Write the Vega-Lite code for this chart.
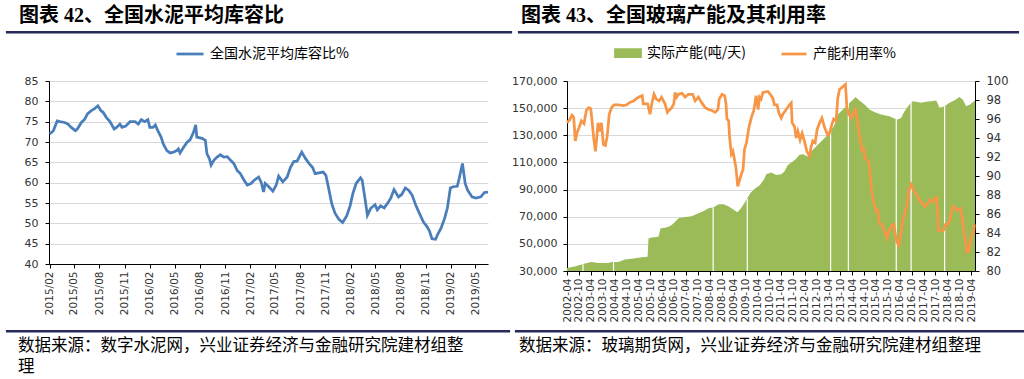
{
  "$schema": "https://vega.github.io/schema/vega-lite/v6.json",
  "padding": {"left": 5, "top": 4, "right": 0, "bottom": 0},
  "background": "white",
  "columns": 1,
  "align": "none",
  "spacing": 5,
  "config": {
    "view": {"stroke": null},
    "axis": {"labelFont": "DejaVu Sans", "labelFontSize": 10.5, "labelColor": "#333333", "domainColor": "#000000", "tickColor": "#000000", "gridColor": "#D9D9D9", "title": null},
    "axisX": {"labelOverlap": false},
    "legend": {"labelFont": "Noto Sans CJK SC", "labelFontSize": 14, "labelColor": "#000000", "title": null}
  },
  "datasets": {
    "cement": [
      {"d": "2015-02-01", "v": 72.0}, {"d": "2015-02-09", "v": 72.4}, {"d": "2015-02-15", "v": 72.8}, {"d": "2015-03-01", "v": 75.2},
      {"d": "2015-03-10", "v": 75.0}, {"d": "2015-03-28", "v": 74.8}, {"d": "2015-04-09", "v": 74.4}, {"d": "2015-04-21", "v": 73.6},
      {"d": "2015-05-06", "v": 72.8}, {"d": "2015-05-13", "v": 73.2}, {"d": "2015-05-28", "v": 74.8}, {"d": "2015-06-09", "v": 75.6},
      {"d": "2015-06-19", "v": 76.9}, {"d": "2015-07-03", "v": 77.7}, {"d": "2015-07-15", "v": 78.2}, {"d": "2015-07-27", "v": 78.9},
      {"d": "2015-08-07", "v": 77.7}, {"d": "2015-08-15", "v": 77.3}, {"d": "2015-08-27", "v": 76.0}, {"d": "2015-09-09", "v": 75.0},
      {"d": "2015-09-24", "v": 73.2}, {"d": "2015-10-03", "v": 73.6}, {"d": "2015-10-15", "v": 74.4}, {"d": "2015-10-23", "v": 73.6},
      {"d": "2015-11-05", "v": 73.9}, {"d": "2015-11-21", "v": 75.0}, {"d": "2015-12-09", "v": 75.0}, {"d": "2015-12-21", "v": 74.4},
      {"d": "2016-01-01", "v": 75.5}, {"d": "2016-01-13", "v": 75.0}, {"d": "2016-01-25", "v": 75.5}, {"d": "2016-02-01", "v": 73.6},
      {"d": "2016-02-12", "v": 73.6}, {"d": "2016-02-21", "v": 74.2}, {"d": "2016-03-01", "v": 72.8}, {"d": "2016-03-13", "v": 71.2},
      {"d": "2016-03-21", "v": 69.5}, {"d": "2016-04-03", "v": 67.9}, {"d": "2016-04-15", "v": 67.3}, {"d": "2016-04-27", "v": 67.5},
      {"d": "2016-05-09", "v": 67.9}, {"d": "2016-05-15", "v": 68.3}, {"d": "2016-05-21", "v": 67.3}, {"d": "2016-06-03", "v": 68.7},
      {"d": "2016-06-15", "v": 69.9}, {"d": "2016-06-27", "v": 70.6}, {"d": "2016-07-09", "v": 72.4}, {"d": "2016-07-17", "v": 74.2},
      {"d": "2016-07-21", "v": 71.2}, {"d": "2016-08-09", "v": 70.9}, {"d": "2016-08-21", "v": 70.4}, {"d": "2016-08-27", "v": 67.1},
      {"d": "2016-09-05", "v": 65.9}, {"d": "2016-09-11", "v": 64.3}, {"d": "2016-09-21", "v": 65.5}, {"d": "2016-10-03", "v": 66.3},
      {"d": "2016-10-15", "v": 66.9}, {"d": "2016-10-27", "v": 66.3}, {"d": "2016-11-09", "v": 66.4}, {"d": "2016-11-21", "v": 65.5},
      {"d": "2016-12-03", "v": 64.7}, {"d": "2016-12-15", "v": 63.0}, {"d": "2016-12-27", "v": 62.2}, {"d": "2017-01-09", "v": 60.6},
      {"d": "2017-01-21", "v": 59.4}, {"d": "2017-02-03", "v": 59.8}, {"d": "2017-02-15", "v": 60.6}, {"d": "2017-03-03", "v": 61.4},
      {"d": "2017-03-13", "v": 60.0}, {"d": "2017-03-21", "v": 57.7}, {"d": "2017-03-27", "v": 59.8}, {"d": "2017-04-09", "v": 59.0},
      {"d": "2017-04-24", "v": 57.9}, {"d": "2017-05-06", "v": 59.4}, {"d": "2017-05-15", "v": 61.6}, {"d": "2017-05-30", "v": 60.2},
      {"d": "2017-06-15", "v": 61.4}, {"d": "2017-06-27", "v": 63.8}, {"d": "2017-07-09", "v": 65.2}, {"d": "2017-07-21", "v": 65.3},
      {"d": "2017-08-07", "v": 67.5}, {"d": "2017-08-21", "v": 65.9}, {"d": "2017-09-03", "v": 64.7}, {"d": "2017-09-15", "v": 63.8},
      {"d": "2017-09-25", "v": 62.2}, {"d": "2017-10-09", "v": 62.4}, {"d": "2017-10-24", "v": 62.6}, {"d": "2017-11-03", "v": 61.8},
      {"d": "2017-11-13", "v": 58.6}, {"d": "2017-11-24", "v": 54.9}, {"d": "2017-12-06", "v": 52.5}, {"d": "2017-12-21", "v": 50.9},
      {"d": "2018-01-03", "v": 50.2}, {"d": "2018-01-18", "v": 51.9}, {"d": "2018-01-30", "v": 54.3}, {"d": "2018-02-09", "v": 57.3},
      {"d": "2018-02-21", "v": 59.8}, {"d": "2018-03-09", "v": 61.2}, {"d": "2018-03-15", "v": 60.6}, {"d": "2018-03-25", "v": 56.2},
      {"d": "2018-04-03", "v": 52.0}, {"d": "2018-04-15", "v": 53.7}, {"d": "2018-05-01", "v": 54.6}, {"d": "2018-05-09", "v": 53.3},
      {"d": "2018-05-21", "v": 54.3}, {"d": "2018-06-03", "v": 53.8}, {"d": "2018-06-15", "v": 54.9}, {"d": "2018-06-27", "v": 56.2},
      {"d": "2018-07-09", "v": 58.3}, {"d": "2018-07-25", "v": 56.5}, {"d": "2018-08-06", "v": 57.1}, {"d": "2018-08-19", "v": 58.7},
      {"d": "2018-09-01", "v": 58.1}, {"d": "2018-09-13", "v": 56.9}, {"d": "2018-09-27", "v": 54.3}, {"d": "2018-10-09", "v": 52.5},
      {"d": "2018-10-24", "v": 50.3}, {"d": "2018-11-06", "v": 49.2}, {"d": "2018-11-15", "v": 48.1}, {"d": "2018-11-24", "v": 46.2},
      {"d": "2018-12-07", "v": 46.1}, {"d": "2018-12-15", "v": 47.3}, {"d": "2018-12-27", "v": 48.8}, {"d": "2019-01-09", "v": 51.2},
      {"d": "2019-01-19", "v": 53.7}, {"d": "2019-01-30", "v": 58.7}, {"d": "2019-02-09", "v": 59.0}, {"d": "2019-02-24", "v": 59.1},
      {"d": "2019-03-03", "v": 61.0}, {"d": "2019-03-15", "v": 64.7}, {"d": "2019-03-25", "v": 59.8}, {"d": "2019-04-03", "v": 58.1},
      {"d": "2019-04-19", "v": 56.5}, {"d": "2019-05-03", "v": 56.2}, {"d": "2019-05-21", "v": 56.5}, {"d": "2019-06-03", "v": 57.6},
      {"d": "2019-06-16", "v": 57.7}
    ],
    "cap": [
      {"d": "2002-04-01", "cap": 32250}, {"d": "2002-07-28", "cap": 33240}, {"d": "2003-01-01", "cap": 35470}, {"d": "2003-04-10", "cap": 36700},
      {"d": "2003-07-22", "cap": 35960}, {"d": "2003-12-25", "cap": 35960}, {"d": "2004-02-15", "cap": 36700}, {"d": "2004-05-28", "cap": 36700},
      {"d": "2004-09-07", "cap": 38440}, {"d": "2005-01-16", "cap": 39180}, {"d": "2005-04-25", "cap": 39920}, {"d": "2005-08-22", "cap": 40410},
      {"d": "2005-09-04", "cap": 54000}, {"d": "2005-10-25", "cap": 54760}, {"d": "2006-02-04", "cap": 55250}, {"d": "2006-03-10", "cap": 61430},
      {"d": "2006-05-16", "cap": 61930}, {"d": "2006-07-07", "cap": 62670}, {"d": "2006-08-28", "cap": 63900}, {"d": "2006-10-19", "cap": 66380},
      {"d": "2006-12-10", "cap": 68850}, {"d": "2007-02-23", "cap": 69600}, {"d": "2007-06-07", "cap": 70100}, {"d": "2007-07-28", "cap": 70830},
      {"d": "2007-10-12", "cap": 72560}, {"d": "2008-01-01", "cap": 74290}, {"d": "2008-03-16", "cap": 76270}, {"d": "2008-06-01", "cap": 77010},
      {"d": "2008-08-18", "cap": 79240}, {"d": "2008-11-04", "cap": 79240}, {"d": "2009-01-18", "cap": 77510}, {"d": "2009-04-07", "cap": 75040},
      {"d": "2009-05-28", "cap": 73310}, {"d": "2009-07-16", "cap": 75530}, {"d": "2009-10-04", "cap": 81220}, {"d": "2009-12-18", "cap": 87400},
      {"d": "2010-03-07", "cap": 91110}, {"d": "2010-05-07", "cap": 93090}, {"d": "2010-07-13", "cap": 97290}, {"d": "2010-08-19", "cap": 101250},
      {"d": "2010-11-04", "cap": 102490}, {"d": "2011-01-19", "cap": 100760}, {"d": "2011-04-07", "cap": 101250}, {"d": "2011-05-25", "cap": 103230},
      {"d": "2011-07-16", "cap": 108180}, {"d": "2011-10-01", "cap": 110650}, {"d": "2011-11-21", "cap": 112630}, {"d": "2012-01-12", "cap": 115600},
      {"d": "2012-03-04", "cap": 116090}, {"d": "2012-05-19", "cap": 114360}, {"d": "2012-07-09", "cap": 118070}, {"d": "2012-09-23", "cap": 121780},
      {"d": "2012-12-09", "cap": 125490}, {"d": "2013-02-01", "cap": 127960}, {"d": "2013-04-16", "cap": 131670}, {"d": "2013-07-04", "cap": 137850},
      {"d": "2013-08-22", "cap": 145270}, {"d": "2013-11-09", "cap": 148980}, {"d": "2014-01-23", "cap": 152690}, {"d": "2014-04-01", "cap": 155660},
      {"d": "2014-05-22", "cap": 158130}, {"d": "2014-07-21", "cap": 155660}, {"d": "2014-10-07", "cap": 152690}, {"d": "2014-12-21", "cap": 148980},
      {"d": "2015-03-07", "cap": 147250}, {"d": "2015-05-25", "cap": 145770}, {"d": "2015-08-09", "cap": 144780}, {"d": "2015-10-25", "cap": 144040},
      {"d": "2016-01-10", "cap": 142310}, {"d": "2016-03-01", "cap": 141570}, {"d": "2016-04-21", "cap": 142800}, {"d": "2016-06-13", "cap": 147740},
      {"d": "2016-08-28", "cap": 152690}, {"d": "2016-10-19", "cap": 155160}, {"d": "2016-12-10", "cap": 154670}, {"d": "2017-02-23", "cap": 153930},
      {"d": "2017-05-10", "cap": 154670}, {"d": "2017-07-25", "cap": 155160}, {"d": "2017-10-13", "cap": 155660}, {"d": "2017-12-04", "cap": 150220},
      {"d": "2018-02-19", "cap": 151450}, {"d": "2018-05-04", "cap": 153930}, {"d": "2018-07-19", "cap": 155660}, {"d": "2018-10-04", "cap": 158130},
      {"d": "2018-11-25", "cap": 156400}, {"d": "2019-01-16", "cap": 151450}, {"d": "2019-03-16", "cap": 152690}, {"d": "2019-06-01", "cap": 155660}
    ],
    "gaps": [
      {"d": "2002-12-03", "cap": 35000}, {"d": "2004-03-16", "cap": 36700}, {"d": "2008-05-25", "cap": 77000}, {"d": "2009-11-01", "cap": 83000},
      {"d": "2013-05-04", "cap": 132900}, {"d": "2014-02-01", "cap": 153900}, {"d": "2016-02-07", "cap": 142300}, {"d": "2016-09-22", "cap": 153900},
      {"d": "2018-02-19", "cap": 151450}
    ],
    "util": [
      {"d": "2002-04-01", "u": 95.6}, {"d": "2002-05-11", "u": 95.9}, {"d": "2002-06-16", "u": 96.4}, {"d": "2002-07-13", "u": 96.2},
      {"d": "2002-08-07", "u": 93.7}, {"d": "2002-09-04", "u": 94.6}, {"d": "2002-10-04", "u": 95.1}, {"d": "2002-11-09", "u": 95.8},
      {"d": "2002-12-18", "u": 95.5}, {"d": "2003-01-24", "u": 96.9}, {"d": "2003-03-01", "u": 97.2}, {"d": "2003-04-01", "u": 97.1},
      {"d": "2003-04-21", "u": 95.8}, {"d": "2003-05-16", "u": 94.0}, {"d": "2003-06-12", "u": 92.6}, {"d": "2003-07-01", "u": 93.9},
      {"d": "2003-07-22", "u": 95.6}, {"d": "2003-08-19", "u": 94.7}, {"d": "2003-09-12", "u": 95.6}, {"d": "2003-10-13", "u": 93.3},
      {"d": "2003-11-12", "u": 93.2}, {"d": "2003-12-10", "u": 94.2}, {"d": "2004-01-10", "u": 96.5}, {"d": "2004-02-15", "u": 97.2},
      {"d": "2004-03-25", "u": 97.5}, {"d": "2004-05-28", "u": 97.5}, {"d": "2004-08-13", "u": 97.4}, {"d": "2004-10-04", "u": 97.5},
      {"d": "2004-11-10", "u": 97.7}, {"d": "2005-01-16", "u": 97.9}, {"d": "2005-04-01", "u": 98.3}, {"d": "2005-06-01", "u": 98.45},
      {"d": "2005-06-16", "u": 97.6}, {"d": "2005-08-22", "u": 97.6}, {"d": "2005-09-28", "u": 96.5}, {"d": "2005-10-25", "u": 97.6},
      {"d": "2005-11-28", "u": 98.6}, {"d": "2006-01-01", "u": 98.1}, {"d": "2006-02-15", "u": 97.9}, {"d": "2006-03-23", "u": 98.3},
      {"d": "2006-05-16", "u": 97.6}, {"d": "2006-06-22", "u": 96.7}, {"d": "2006-07-16", "u": 96.9}, {"d": "2006-08-28", "u": 97.2},
      {"d": "2006-09-28", "u": 97.6}, {"d": "2006-10-19", "u": 98.8}, {"d": "2006-11-12", "u": 98.3}, {"d": "2006-12-10", "u": 98.6},
      {"d": "2007-02-01", "u": 98.7}, {"d": "2007-03-22", "u": 98.3}, {"d": "2007-05-10", "u": 98.6}, {"d": "2007-07-16", "u": 98.6},
      {"d": "2007-08-21", "u": 97.9}, {"d": "2007-10-12", "u": 98.3}, {"d": "2007-11-23", "u": 97.8}, {"d": "2008-01-23", "u": 97.2},
      {"d": "2008-03-16", "u": 97.0}, {"d": "2008-05-07", "u": 96.9}, {"d": "2008-06-26", "u": 96.7}, {"d": "2008-08-07", "u": 97.0},
      {"d": "2008-08-26", "u": 98.1}, {"d": "2008-10-09", "u": 98.6}, {"d": "2008-11-18", "u": 98.45}, {"d": "2008-12-09", "u": 97.6},
      {"d": "2008-12-23", "u": 96.0}, {"d": "2009-01-18", "u": 95.8}, {"d": "2009-02-03", "u": 94.0}, {"d": "2009-03-01", "u": 92.3},
      {"d": "2009-03-25", "u": 92.6}, {"d": "2009-04-21", "u": 91.6}, {"d": "2009-05-10", "u": 90.9}, {"d": "2009-06-07", "u": 88.9},
      {"d": "2009-07-01", "u": 89.45}, {"d": "2009-08-01", "u": 90.2}, {"d": "2009-08-28", "u": 90.7}, {"d": "2009-09-18", "u": 92.8},
      {"d": "2009-10-19", "u": 93.5}, {"d": "2009-11-25", "u": 95.1}, {"d": "2010-01-04", "u": 96.2}, {"d": "2010-02-09", "u": 96.9},
      {"d": "2010-03-16", "u": 98.45}, {"d": "2010-04-16", "u": 97.0}, {"d": "2010-05-07", "u": 98.3}, {"d": "2010-06-01", "u": 98.1},
      {"d": "2010-06-28", "u": 98.8}, {"d": "2010-09-13", "u": 98.9}, {"d": "2010-10-19", "u": 98.6}, {"d": "2010-11-28", "u": 98.2},
      {"d": "2010-12-23", "u": 97.5}, {"d": "2011-02-01", "u": 97.5}, {"d": "2011-03-01", "u": 96.65}, {"d": "2011-04-07", "u": 96.1},
      {"d": "2011-05-01", "u": 96.5}, {"d": "2011-06-21", "u": 97.0}, {"d": "2011-08-12", "u": 97.5}, {"d": "2011-09-07", "u": 97.7},
      {"d": "2011-09-21", "u": 95.6}, {"d": "2011-10-28", "u": 95.2}, {"d": "2011-11-21", "u": 94.0}, {"d": "2011-12-18", "u": 94.7},
      {"d": "2012-01-21", "u": 93.8}, {"d": "2012-02-21", "u": 94.5}, {"d": "2012-03-27", "u": 93.7}, {"d": "2012-05-04", "u": 92.6},
      {"d": "2012-06-13", "u": 92.1}, {"d": "2012-07-09", "u": 93.1}, {"d": "2012-08-04", "u": 93.7}, {"d": "2012-09-09", "u": 93.5},
      {"d": "2012-10-09", "u": 94.9}, {"d": "2012-11-16", "u": 95.6}, {"d": "2012-12-22", "u": 96.1}, {"d": "2013-02-01", "u": 95.1},
      {"d": "2013-03-21", "u": 94.3}, {"d": "2013-04-16", "u": 94.5}, {"d": "2013-05-22", "u": 95.4}, {"d": "2013-06-21", "u": 96.0},
      {"d": "2013-07-28", "u": 95.8}, {"d": "2013-08-22", "u": 98.2}, {"d": "2013-09-18", "u": 99.1}, {"d": "2013-10-23", "u": 99.3},
      {"d": "2013-11-23", "u": 99.5}, {"d": "2013-12-18", "u": 99.65}, {"d": "2014-01-10", "u": 97.2}, {"d": "2014-02-09", "u": 96.5},
      {"d": "2014-03-16", "u": 96.1}, {"d": "2014-04-21", "u": 96.65}, {"d": "2014-05-22", "u": 97.0}, {"d": "2014-06-16", "u": 95.95},
      {"d": "2014-07-09", "u": 94.7}, {"d": "2014-08-07", "u": 93.8}, {"d": "2014-09-01", "u": 92.6}, {"d": "2014-09-22", "u": 93.0},
      {"d": "2014-10-16", "u": 91.9}, {"d": "2014-11-16", "u": 91.7}, {"d": "2014-12-13", "u": 91.4}, {"d": "2015-01-04", "u": 89.8},
      {"d": "2015-02-04", "u": 88.0}, {"d": "2015-03-07", "u": 87.0}, {"d": "2015-04-04", "u": 86.3}, {"d": "2015-04-28", "u": 86.4},
      {"d": "2015-05-25", "u": 85.0}, {"d": "2015-07-04", "u": 84.9}, {"d": "2015-08-09", "u": 84.2}, {"d": "2015-09-16", "u": 83.45},
      {"d": "2015-10-16", "u": 84.2}, {"d": "2015-11-21", "u": 84.7}, {"d": "2016-01-01", "u": 84.9}, {"d": "2016-01-25", "u": 83.8},
      {"d": "2016-02-15", "u": 83.1}, {"d": "2016-03-16", "u": 82.7}, {"d": "2016-04-13", "u": 83.6}, {"d": "2016-05-07", "u": 85.0},
      {"d": "2016-06-13", "u": 85.9}, {"d": "2016-07-18", "u": 87.0}, {"d": "2016-08-18", "u": 88.4}, {"d": "2016-09-23", "u": 89.1},
      {"d": "2016-10-26", "u": 88.6}, {"d": "2016-11-26", "u": 88.2}, {"d": "2017-01-04", "u": 87.85}, {"d": "2017-02-09", "u": 87.3},
      {"d": "2017-03-18", "u": 87.1}, {"d": "2017-05-01", "u": 86.8}, {"d": "2017-06-07", "u": 87.1}, {"d": "2017-07-09", "u": 87.5},
      {"d": "2017-08-21", "u": 87.3}, {"d": "2017-10-01", "u": 87.7}, {"d": "2017-10-21", "u": 87.75}, {"d": "2017-11-16", "u": 84.3},
      {"d": "2017-12-26", "u": 84.2}, {"d": "2018-02-04", "u": 84.3}, {"d": "2018-03-04", "u": 84.9}, {"d": "2018-04-09", "u": 84.9},
      {"d": "2018-05-12", "u": 85.4}, {"d": "2018-06-23", "u": 86.8}, {"d": "2018-08-04", "u": 86.6}, {"d": "2018-09-09", "u": 86.4},
      {"d": "2018-10-18", "u": 86.6}, {"d": "2018-11-16", "u": 85.6}, {"d": "2018-12-09", "u": 84.3}, {"d": "2019-01-07", "u": 83.1},
      {"d": "2019-01-25", "u": 82.0}, {"d": "2019-02-26", "u": 82.1}, {"d": "2019-03-16", "u": 83.1}, {"d": "2019-04-16", "u": 83.8},
      {"d": "2019-05-12", "u": 84.2}, {"d": "2019-05-22", "u": 84.9}
    ]
  },
  "concat": [
    {
      "spacing": 4,
      "hconcat": [
        {
          "width": 504, "height": 0.5,
          "view": {"stroke": "#262A5B", "strokeWidth": 2.2},
          "title": {"text": "图表 42、全国水泥平均库容比", "anchor": "start", "dx": 12, "offset": 6, "font": "'Liberation Serif', 'Noto Sans CJK SC'", "fontSize": 20, "fontWeight": "bold", "color": "#000000"},
          "data": {"values": [{}]},
          "mark": {"type": "point", "opacity": 0, "size": 0},
          "encoding": {}
        },
        {
          "width": 499, "height": 0.5,
          "view": {"stroke": "#262A5B", "strokeWidth": 2.2},
          "title": {"text": "图表 43、全国玻璃产能及其利用率", "anchor": "start", "dx": 2, "offset": 6, "font": "'Liberation Serif', 'Noto Sans CJK SC'", "fontSize": 20, "fontWeight": "bold", "color": "#000000"},
          "data": {"values": [{}]},
          "mark": {"type": "point", "opacity": 0, "size": 0},
          "encoding": {}
        }
      ]
    },
    {
      "columns": 3,
      "align": "none",
      "spacing": 0,
      "resolve": {"scale": {"color": "independent"}, "legend": {"color": "independent"}},
      "concat": [
        {
          "width": 1, "height": 1,
          "data": {"values": [{}]},
          "mark": {"type": "point", "opacity": 0, "size": 0},
          "encoding": {}
        },
        {
          "width": 439, "height": 183,
          "data": {"name": "cement"},
          "mark": {"type": "line", "strokeWidth": 2.75},
          "encoding": {
            "x": {
              "field": "d", "type": "temporal",
              "scale": {"type": "utc", "domain": [{"year": 2015, "month": 1, "date": 30, "utc": true}, {"year": 2019, "month": 6, "date": 16, "utc": true}]},
              "axis": {
                "values": [
                  {"year": 2015, "month": 2, "date": 1, "utc": true}, {"year": 2015, "month": 5, "date": 1, "utc": true}, {"year": 2015, "month": 8, "date": 1, "utc": true}, {"year": 2015, "month": 11, "date": 1, "utc": true},
                  {"year": 2016, "month": 2, "date": 1, "utc": true}, {"year": 2016, "month": 5, "date": 1, "utc": true}, {"year": 2016, "month": 8, "date": 1, "utc": true}, {"year": 2016, "month": 11, "date": 1, "utc": true},
                  {"year": 2017, "month": 2, "date": 1, "utc": true}, {"year": 2017, "month": 5, "date": 1, "utc": true}, {"year": 2017, "month": 8, "date": 1, "utc": true}, {"year": 2017, "month": 11, "date": 1, "utc": true},
                  {"year": 2018, "month": 2, "date": 1, "utc": true}, {"year": 2018, "month": 5, "date": 1, "utc": true}, {"year": 2018, "month": 8, "date": 1, "utc": true}, {"year": 2018, "month": 11, "date": 1, "utc": true},
                  {"year": 2019, "month": 2, "date": 1, "utc": true}, {"year": 2019, "month": 5, "date": 1, "utc": true}
                ],
                "labelExpr": "utcFormat(datum.value, '%Y/%m')", "labelAngle": -90, "labelOverlap": false, "labelFlush": false, "grid": false, "tickSize": 4, "labelPadding": 3
              }
            },
            "y": {
              "field": "v", "type": "quantitative",
              "scale": {"domain": [40, 85], "zero": false, "nice": false},
              "axis": {"values": [40, 45, 50, 55, 60, 65, 70, 75, 80, 85], "grid": true, "tickSize": 4, "labelFontSize": 11, "labelPadding": 7, "minExtent": 41, "maxExtent": 41}
            },
            "color": {
              "datum": "全国水泥平均库容比%",
              "scale": {"domain": ["全国水泥平均库容比%"], "range": ["#4A7EBB"]},
              "legend": {"orient": "none", "legendX": 126, "legendY": -42, "symbolType": "M-1,0H1", "symbolSize": 729, "symbolStrokeWidth": 2.75, "labelOffset": 5}
            }
          }
        },
        {
          "width": 408, "height": 190,
          "encoding": {
            "x": {
              "field": "d", "type": "temporal",
              "scale": {"type": "utc", "domain": [{"year": 2002, "month": 4, "date": 1, "utc": true}, {"year": 2019, "month": 6, "date": 1, "utc": true}]},
              "axis": {
                "values": [
                  {"year": 2002, "month": 4, "date": 1, "utc": true}, {"year": 2002, "month": 10, "date": 1, "utc": true},
                  {"year": 2003, "month": 4, "date": 1, "utc": true}, {"year": 2003, "month": 10, "date": 1, "utc": true},
                  {"year": 2004, "month": 4, "date": 1, "utc": true}, {"year": 2004, "month": 10, "date": 1, "utc": true},
                  {"year": 2005, "month": 4, "date": 1, "utc": true}, {"year": 2005, "month": 10, "date": 1, "utc": true},
                  {"year": 2006, "month": 4, "date": 1, "utc": true}, {"year": 2006, "month": 10, "date": 1, "utc": true},
                  {"year": 2007, "month": 4, "date": 1, "utc": true}, {"year": 2007, "month": 10, "date": 1, "utc": true},
                  {"year": 2008, "month": 4, "date": 1, "utc": true}, {"year": 2008, "month": 10, "date": 1, "utc": true},
                  {"year": 2009, "month": 4, "date": 1, "utc": true}, {"year": 2009, "month": 10, "date": 1, "utc": true},
                  {"year": 2010, "month": 4, "date": 1, "utc": true}, {"year": 2010, "month": 10, "date": 1, "utc": true},
                  {"year": 2011, "month": 4, "date": 1, "utc": true}, {"year": 2011, "month": 10, "date": 1, "utc": true},
                  {"year": 2012, "month": 4, "date": 1, "utc": true}, {"year": 2012, "month": 10, "date": 1, "utc": true},
                  {"year": 2013, "month": 4, "date": 1, "utc": true}, {"year": 2013, "month": 10, "date": 1, "utc": true},
                  {"year": 2014, "month": 4, "date": 1, "utc": true}, {"year": 2014, "month": 10, "date": 1, "utc": true},
                  {"year": 2015, "month": 4, "date": 1, "utc": true}, {"year": 2015, "month": 10, "date": 1, "utc": true},
                  {"year": 2016, "month": 4, "date": 1, "utc": true}, {"year": 2016, "month": 10, "date": 1, "utc": true},
                  {"year": 2017, "month": 4, "date": 1, "utc": true}, {"year": 2017, "month": 10, "date": 1, "utc": true},
                  {"year": 2018, "month": 4, "date": 1, "utc": true}, {"year": 2018, "month": 10, "date": 1, "utc": true},
                  {"year": 2019, "month": 4, "date": 1, "utc": true}
                ],
                "labelExpr": "utcFormat(datum.value, '%Y-%m')", "labelAngle": -90, "labelOverlap": false, "labelFlush": false, "grid": false, "tickSize": 4, "labelPadding": 3, "zindex": 1, "minExtent": 53
              }
            }
          },
          "layer": [
            {
              "data": {"name": "cap"},
              "mark": {"type": "area", "interpolate": "linear"},
              "encoding": {
                "y": {
                  "field": "cap", "type": "quantitative",
                  "scale": {"domain": [30000, 170000], "zero": false, "nice": false},
                  "axis": {"orient": "left", "values": [30000, 50000, 70000, 90000, 110000, 130000, 150000, 170000], "format": ",d", "grid": true, "tickSize": 4, "labelFontSize": 11, "labelPadding": 6, "minExtent": 73, "maxExtent": 73}
                },
                "y2": {"datum": 30000},
                "color": {
                  "datum": "实际产能(吨/天)",
                  "scale": {"domain": ["实际产能(吨/天)", "产能利用率%"], "range": ["#9BBB59", "#F79646"]},
                  "legend": {
                    "orient": "none", "legendX": 47, "legendY": -42, "direction": "horizontal", "columnPadding": 30,
                    "symbolType": "M-1,-0.28H1V0.28H-1Z", "symbolSize": 625, "labelOffset": 5,
                    "encode": {
                      "symbols": {
                        "update": {
                          "shape": {"signal": "datum.label === '产能利用率%' ? 'M-1,0H1' : 'M-1,-0.28H1V0.28H-1Z'"},
                          "fill": {"signal": "datum.label === '产能利用率%' ? 'transparent' : '#9BBB59'"},
                          "stroke": {"signal": "datum.label === '产能利用率%' ? '#F79646' : 'transparent'"},
                          "strokeWidth": {"value": 2.75},
                          "opacity": {"value": 1}
                        }
                      }
                    }
                  }
                }
              }
            },
            {
              "data": {"name": "gaps"},
              "mark": {"type": "rule", "color": "#FFFFFF", "strokeWidth": 1.2},
              "encoding": {
                "y": {"field": "cap", "type": "quantitative", "scale": {"domain": [30000, 170000], "zero": false, "nice": false}, "axis": null},
                "y2": {"datum": 30000}
              }
            },
            {
              "data": {"name": "util"},
              "mark": {"type": "line", "strokeWidth": 2.75},
              "encoding": {
                "y": {
                  "field": "u", "type": "quantitative",
                  "scale": {"domain": [80, 100], "zero": false, "nice": false},
                  "axis": {"orient": "right", "values": [80, 82, 84, 86, 88, 90, 92, 94, 96, 98, 100], "grid": false, "tickSize": 4, "labelFontSize": 11.5, "labelPadding": 7}
                },
                "color": {"datum": "产能利用率%"}
              }
            }
          ],
          "resolve": {"scale": {"y": "independent"}}
        }
      ]
    },
    {
      "spacing": 3,
      "hconcat": [
        {
          "width": 502, "height": 0.5,
          "view": {"stroke": "#262A5B", "strokeWidth": 2.2},
          "title": {"text": ["数据来源：数字水泥网，兴业证券经济与金融研究院建材组整", "理"], "orient": "bottom", "anchor": "start", "dx": 11, "offset": 6, "font": "Noto Sans CJK SC", "fontSize": 16.5, "fontWeight": "normal", "lineHeight": 21, "color": "#000000"},
          "data": {"values": [{}]},
          "mark": {"type": "point", "opacity": 0, "size": 0},
          "encoding": {}
        },
        {
          "width": 508, "height": 0.5,
          "view": {"stroke": "#262A5B", "strokeWidth": 2.2},
          "title": {"text": "数据来源：玻璃期货网，兴业证券经济与金融研究院建材组整理", "orient": "bottom", "anchor": "start", "dx": 3, "offset": 6, "font": "Noto Sans CJK SC", "fontSize": 16.5, "fontWeight": "normal", "color": "#000000"},
          "data": {"values": [{}]},
          "mark": {"type": "point", "opacity": 0, "size": 0},
          "encoding": {}
        }
      ]
    }
  ]
}
